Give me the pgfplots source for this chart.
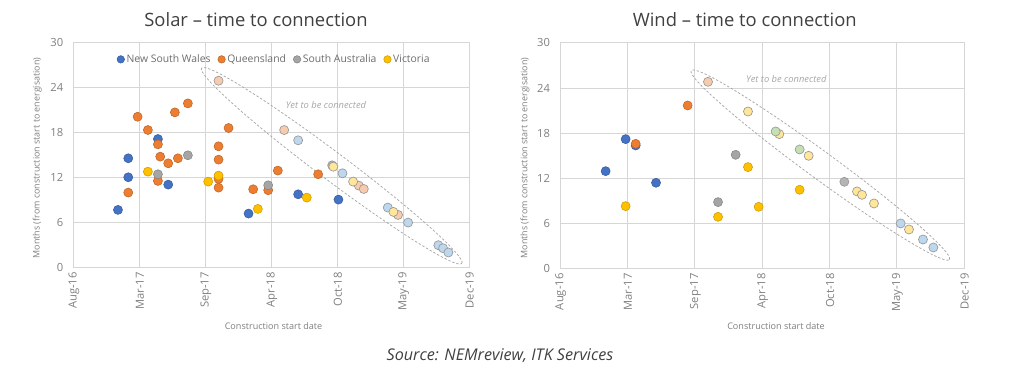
\documentclass[border=0pt]{standalone}
\usepackage{fontspec}
\setmainfont{Open Sans}
\usepackage{pgfplots}
\pgfplotsset{compat=1.18}
\usetikzlibrary{shapes.geometric}
\definecolor{nsw}{HTML}{4472C4}
\definecolor{qld}{HTML}{ED7D31}
\definecolor{sa}{HTML}{A5A5A5}
\definecolor{vic}{HTML}{FFC000}
\definecolor{lnsw}{HTML}{BDD7EE}
\definecolor{lqld}{HTML}{F8CBAD}
\definecolor{lsa}{HTML}{B4B4B4}
\definecolor{lvic}{HTML}{FFE699}
\definecolor{lgrn}{HTML}{C5E0B4}
\definecolor{gridc}{HTML}{D6D6D6}
\definecolor{tickc}{HTML}{7F7F7F}
\definecolor{titlec}{HTML}{404040}
\pgfplotsset{
  base/.style={
    scale only axis,
    xmin=0, xmax=6, ymin=0, ymax=30,
    xtick={0,1,2,3,4,5,6},
    xticklabels={Aug-16,Mar-17,Sep-17,Apr-18,Oct-18,May-19,Dec-19},
    ytick={0,6,12,18,24,30},
    grid=major,
    grid style={gridc, line width=0.7pt},
    axis line style={gridc, line width=0.7pt},
    major tick length=0pt,
    /pgf/number format/assume math mode=true,
    tick label style={font=\fontsize{8.4}{10}\selectfont, text=tickc},
    xticklabel style={rotate=90, anchor=east, xshift=0pt, yshift=-0.5pt},
    yticklabel style={xshift=-4pt},
    clip=false,
  },
  dk/.style={only marks, mark=*, mark size=3.4pt, mark options={fill=#1, draw=#1!80!black, line width=0.4pt}},
  lt/.style={only marks, mark=*, mark size=3.4pt, mark options={fill=#1, draw=black!40, line width=0.5pt}, forget plot},
  legend image code/.code={\draw[#1, mark size=2.8pt] plot coordinates {(0.06cm,0cm)};},
}
\begin{document}
\begin{tikzpicture}[x=0.75pt, y=0.75pt]
\path[use as bounding box] (0,0) rectangle (1024,384);
% ---------- Solar ----------
\begin{axis}[base,
  at={(54.98pt,87.375pt)}, anchor=south west,
  width=296.8pt, height=168.75pt,
  legend style={at={(0.508,0.925)}, anchor=center, draw=none, fill=none,
    legend columns=4, font=\fontsize{7.8}{9}\selectfont, text=tickc!85!black,
    /tikz/every even column/.append style={column sep=4pt},
    inner sep=0pt, nodes={inner sep=1.5pt}},
]
\addplot[dk=nsw] coordinates {(0.677,7.68) (0.833,14.56) (0.833,12.03) (1.283,17.13) (1.439,11.05) (2.657,7.19) (3.409,9.76) (4.02,9.05)};
\addlegendentry{New South Wales}
\addplot[dk=qld] coordinates {(0.833,9.99) (0.975,20.1) (1.131,18.33) (1.283,16.42) (1.283,11.54) (1.318,14.78) (1.439,13.89) (1.540,20.68) (1.586,14.56) (1.737,21.88) (2.202,16.16) (2.202,14.38) (2.202,11.81) (2.202,10.65) (2.354,18.6) (2.727,10.43) (2.955,10.3) (3.101,12.92) (3.712,12.43)};
\addlegendentry{Queensland}
\addplot[dk=sa] coordinates {(1.283,12.43) (1.737,14.96) (2.955,10.96)};
\addlegendentry{South Australia}
\addplot[dk=vic] coordinates {(1.131,12.78) (2.045,11.45) (2.202,12.25) (2.798,7.81) (3.540,9.32)};
\addlegendentry{Victoria}
\addplot[lt=lqld] coordinates {(2.202,24.9) (3.197,18.33) (4.328,10.92) (4.404,10.47) (4.924,7.01)};
\addplot[lt=lnsw] coordinates {(3.409,16.96) (4.081,12.56) (4.768,7.99) (5.076,5.99) (5.535,2.97) (5.606,2.57) (5.687,2.0)};
\addplot[lt=lsa] coordinates {(3.925,13.62)};
\addplot[lt=lvic] coordinates {(3.943,13.44) (4.242,11.45) (4.854,7.41)};
\node[draw=black!35, dash pattern=on 1.8pt off 1.4pt, line width=0.55pt, ellipse, inner sep=0pt,
  minimum width=244pt, minimum height=21pt, rotate=-36.9] at (axis cs:3.918,13.56) {};
\node[font=\fontsize{7}{8}\selectfont\itshape, text=black!35] at (axis cs:3.83,21.6) {Yet to be connected};
\end{axis}
% ---------- Wind ----------
\begin{axis}[base,
  at={(420pt,86.4pt)}, anchor=south west,
  width=303pt, height=169.5pt,
]
\addplot[dk=nsw] coordinates {(0.678,12.96) (0.975,17.21) (1.124,16.37) (1.426,11.42)};
\addplot[dk=qld] coordinates {(1.124,16.59) (1.896,21.68)};
\addplot[dk=sa] coordinates {(2.347,8.85) (2.609,15.13)};
\addplot[dk=vic] coordinates {(0.975,8.32) (2.347,6.90) (2.792,13.50) (2.950,8.23) (3.559,10.49)};
\addplot[lt=lqld] coordinates {(2.198,24.82)};
\addplot[lt=lvic] coordinates {(2.792,20.88) (3.257,17.88) (3.693,15.0) (4.411,10.27) (4.485,9.82) (4.663,8.67) (5.183,5.22)};
\addplot[lt=lgrn] coordinates {(3.203,18.23) (3.559,15.84)};
\addplot[lt=lsa] coordinates {(4.223,11.55)};
\addplot[lt=lnsw] coordinates {(5.059,6.02) (5.391,3.89) (5.545,2.83)};
\node[draw=black!35, dash pattern=on 1.8pt off 1.4pt, line width=0.55pt, ellipse, inner sep=0pt,
  minimum width=240pt, minimum height=20.5pt, rotate=-36.2] at (axis cs:3.866,13.77) {};
\node[font=\fontsize{7}{8}\selectfont\itshape, text=black!35] at (axis cs:3.36,25.25) {Yet to be connected};
\end{axis}
% ---------- titles and labels ----------
\node[font=\fontsize{13.8}{16}\selectfont, text=titlec] at (256,364) {Solar – time to connection};
\node[font=\fontsize{13.8}{16}\selectfont, text=titlec] at (744.7,364) {Wind – time to connection};
\node[font=\fontsize{6.8}{8}\selectfont, text=tickc] at (273.5,57.5) {Construction start date};
\node[font=\fontsize{6.8}{8}\selectfont, text=tickc] at (776,57.5) {Construction start date};
\node[font=\fontsize{6.7}{8}\selectfont, text=tickc, rotate=90] at (37.3,226) {Months (from construction start to energisation)};
\node[font=\fontsize{6.7}{8}\selectfont, text=tickc, rotate=90] at (525,226) {Months (from construction start to energisation)};
\node[font=\fontsize{12.1}{14}\selectfont\itshape, text=titlec] at (500,28) {Source: NEMreview, ITK Services};
\end{tikzpicture}
\end{document}
